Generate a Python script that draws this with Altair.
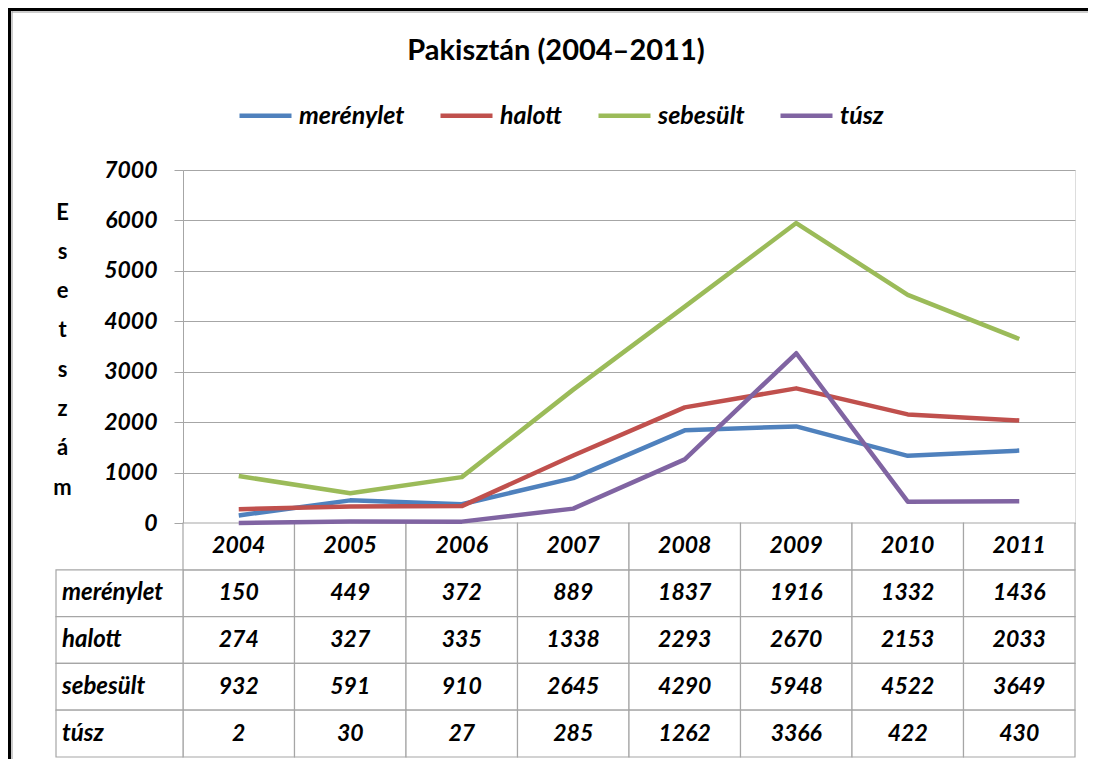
import altair as alt
import pandas as pd

# ---------------- data ----------------
years = ["2004", "2005", "2006", "2007", "2008", "2009", "2010", "2011"]
series = ["merénylet", "halott", "sebesült", "túsz"]
merenylet = [150, 449, 372, 889, 1837, 1916, 1332, 1436]
halott = [274, 327, 335, 1338, 2293, 2670, 2153, 2033]
sebesult = [932, 591, 910, 2645, 4290, 5948, 4522, 3649]
tusz = [2, 30, 27, 285, 1262, 3366, 422, 430]
colors = ["#4F81BD", "#C0504D", "#9BBB59", "#8064A2"]
y_ticks = [0, 1000, 2000, 3000, 4000, 5000, 6000, 7000]
title_text = "Pakisztán (2004–2011)"
y_title = "Esetszám"

values = {"merénylet": merenylet, "halott": halott, "sebesült": sebesult, "túsz": tusz}

recs = []
for s in series:
    for yr, v in zip(years, values[s]):
        recs.append({"series": s, "year": yr, "value": v, "row": s, "text": str(v)})
long_df = pd.DataFrame(recs)
header_df = pd.DataFrame({"year": years, "row": "hdr", "text": years})
table_df = pd.concat([long_df[["year", "row", "text"]], header_df], ignore_index=True)
label_df = pd.DataFrame({"col": "lbl", "row": series, "text": series})

# ---------------- layout ----------------
W, H = 892, 353
TABLE_H = 234
LBL_W = 127
FONT = "Lato"
GRID = "#a6a6a6"

row_scale = alt.Scale(type="band", domain=["hdr"] + series, range=[H, H + TABLE_H],
                      paddingInner=0, paddingOuter=0)
year_band = alt.Scale(type="band", domain=years, paddingInner=0, paddingOuter=0)

lines = alt.Chart(long_df).mark_line(strokeWidth=4.5, strokeJoin="round").encode(
    x=alt.X("year:O", scale=alt.Scale(type="point", domain=years, padding=0.5), axis=None),
    y=alt.Y("value:Q", scale=alt.Scale(domain=[0, 7000], nice=False),
            axis=alt.Axis(values=y_ticks, format="d", title=list(y_title),
                          titleAngle=0, titleX=-121, titleY=42, titleAlign="center",
                          titleBaseline="middle", titleLineHeight=39.3,
                          titleFont=FONT, titleFontSize=22, titleFontWeight="bold",
                          titleColor="black",
                          labelFont=FONT, labelFontSize=23, labelFontStyle="italic",
                          labelFontWeight="bold", labelColor="black", labelPadding=17,
                          tickSize=9, tickColor=GRID, domainColor=GRID,
                          grid=True, gridColor=GRID)),
    color=alt.Color("series:N", scale=alt.Scale(domain=series, range=colors),
                    legend=alt.Legend(orient="none", legendX=54, legendY=-83,
                                      direction="horizontal", title=None,
                                      symbolType="stroke", symbolSize=2704,
                                      symbolStrokeWidth=4.5,
                                      labelFont=FONT, labelFontSize=25,
                                      labelFontStyle="italic", labelFontWeight="bold",
                                      labelColor="black", columnPadding=26,
                                      labelOffset=5, labelLimit=300)),
)

cells = alt.Chart(table_df).mark_rect(fill="white", stroke=GRID, strokeWidth=1.2).encode(
    x=alt.X("year:O", scale=year_band, axis=None),
    y=alt.Y("row:N", scale=row_scale, axis=None),
)
cell_text = alt.Chart(table_df).mark_text(font=FONT, fontSize=23, fontStyle="italic",
                                          fontWeight="bold", color="black").encode(
    x=alt.X("year:O", scale=year_band, axis=None),
    y=alt.Y("row:N", scale=row_scale, axis=None),
    text="text:N",
)

lbl_x = alt.X("col:N", scale=alt.Scale(type="band", domain=["lbl"], range=[-LBL_W, 0],
                                       paddingInner=0, paddingOuter=0), axis=None)
lbl_cells = alt.Chart(label_df).mark_rect(fill="white", stroke=GRID, strokeWidth=1.2).encode(
    x=lbl_x, y=alt.Y("row:N", scale=row_scale, axis=None))
lbl_text = alt.Chart(label_df).mark_text(font=FONT, fontSize=24, fontStyle="italic",
                                         fontWeight="bold",
                                         align="left", dx=-LBL_W / 2 + 6,
                                         color="black").encode(
    x=lbl_x, y=alt.Y("row:N", scale=row_scale, axis=None), text="text:N")

one = pd.DataFrame({"k": [0]})
frame_left = alt.Chart(one).mark_rule(color="black", strokeWidth=3).encode(
    x=alt.value(-173.5), y=alt.value(-162), y2=alt.value(H + 236))
frame_left2 = alt.Chart(one).mark_rule(color="#999999", strokeWidth=1).encode(
    x=alt.value(-171), y=alt.value(-159), y2=alt.value(H + 236))
frame_top = alt.Chart(one).mark_rule(color="black", strokeWidth=3).encode(
    x=alt.value(-175), x2=alt.value(W + 13), y=alt.value(-160.5))
frame_top2 = alt.Chart(one).mark_rule(color="#999999", strokeWidth=1).encode(
    x=alt.value(-171), x2=alt.value(W + 13), y=alt.value(-158))

chart = alt.layer(
    frame_left, frame_left2, frame_top, frame_top2,
    cells, cell_text, lbl_cells, lbl_text, lines,
).resolve_scale(x="independent", y="independent").properties(
    width=W, height=H,
    autosize="none",
    padding={"left": 175, "top": 162, "right": 13, "bottom": 236},
    title=alt.TitleParams(text=title_text, font=FONT, fontSize=29, fontWeight="bold",
                          color="black", anchor="middle", frame="group", dx=-73, dy=63),
).configure_view(stroke=None).configure(background="white")

chart.save("out.html", embed_options={"renderer": "svg", "actions": False})
